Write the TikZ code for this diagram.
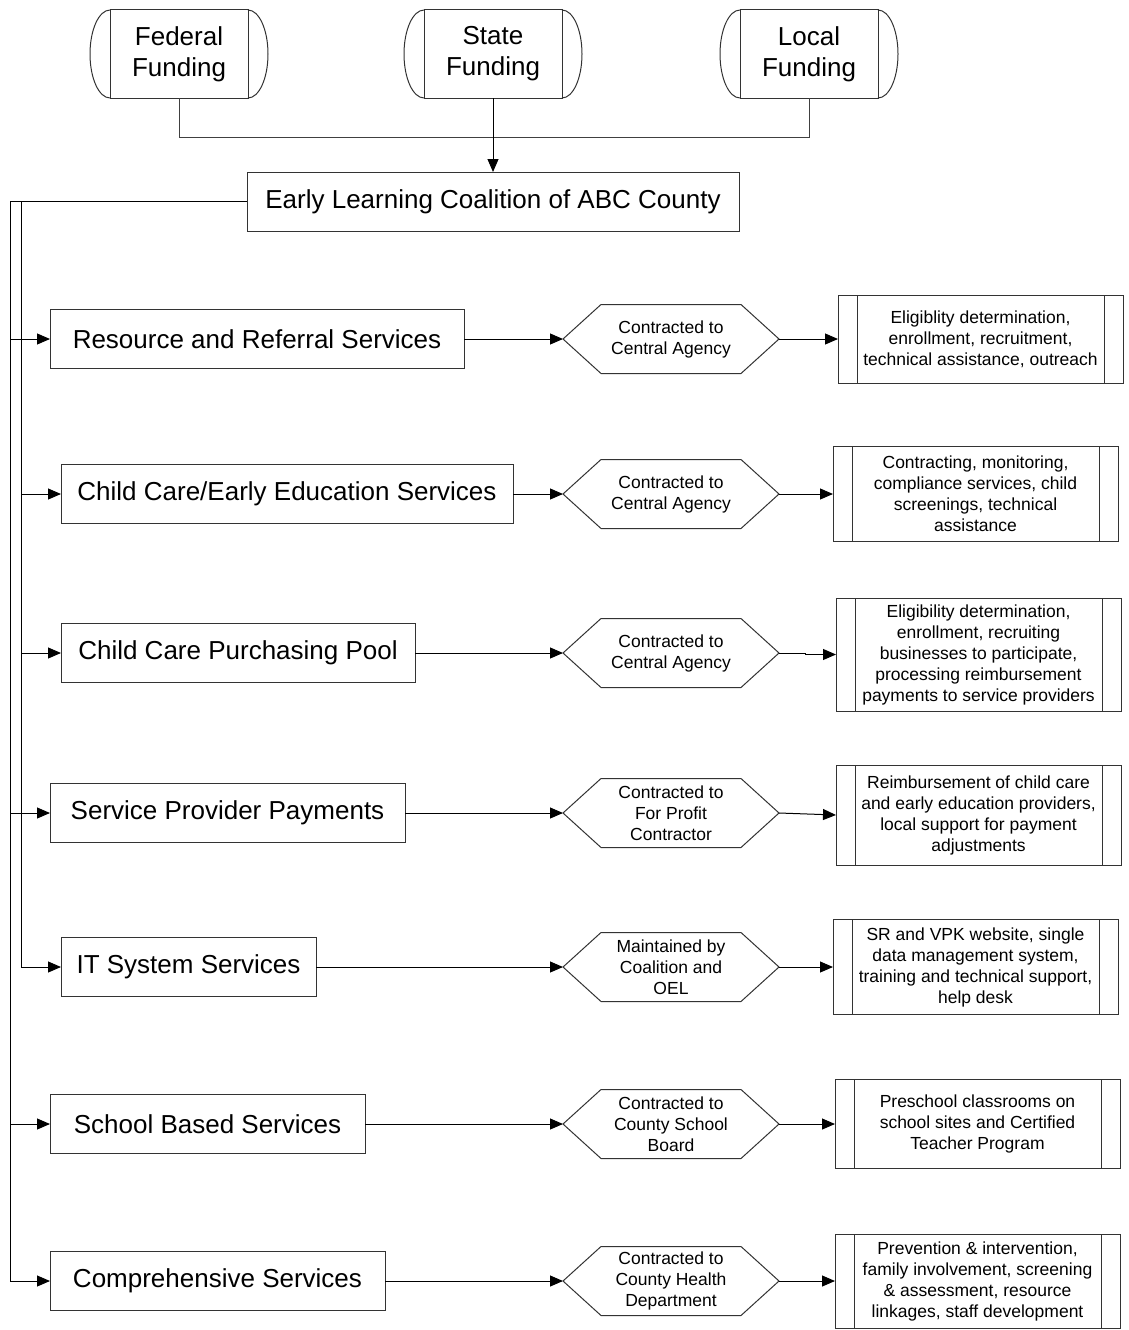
\documentclass[tikz,border=0pt]{standalone}
\usepackage{fontspec}
\setmainfont{Liberation Sans}
\usetikzlibrary{arrows.meta,calc}
\begin{document}
\begin{tikzpicture}[x=1pt,y=-1pt,
  bx/.style={draw=black!80,line width=1pt,rectangle,inner sep=0pt,outer sep=0pt,align=center,font=\fontsize{26}{31}\selectfont,minimum height=59pt},
  fund/.style={draw=black!80,line width=1pt,rectangle,inner sep=0pt,outer sep=0pt,align=center,font=\fontsize{26}{31}\selectfont,minimum width=138pt,minimum height=88pt},
  hexlbl/.style={rectangle,inner sep=0pt,outer sep=0pt,align=center,font=\fontsize{17.5}{21}\selectfont,minimum width=216pt,minimum height=69pt},
  dbox/.style={draw=black!80,line width=1pt,rectangle,inner sep=0pt,outer sep=0pt,align=center,font=\fontsize{17.5}{21}\selectfont,minimum width=285pt},
  outl/.style={draw=black!80,line width=1pt},
  conn/.style={draw=black!75,line width=1pt},
  arr/.style={draw=black,line width=1pt,-{Triangle[length=13pt,width=11pt]}}]
\useasboundingbox (0,0) rectangle (1128,1330);

% funding
\node[fund] (f1) at (179,54) {Federal\\Funding};
\node[fund] (f2) at (493,54) {State\\Funding};
\node[fund] (f3) at (809,54) {Local\\Funding};
\foreach \f in {f1,f2,f3}{
  \draw[outl] (\f.north west) arc[start angle=90,end angle=270,x radius=20pt,y radius=44pt];
  \draw[outl] (\f.north east) arc[start angle=90,end angle=-90,x radius=20pt,y radius=44pt];
}
\node[bx,minimum width=492pt] (elc) at (493,201.5) {Early Learning Coalition of ABC County};
\coordinate (join) at (493,137);
\draw[conn] (f1.south) -- (f1.south |- join) -- (f3.south |- join) -- (f3.south);
\draw[arr] (f2.south) -- (elc.north);

% service boxes
\node[bx,minimum width=414pt] (r1) at (257,339) {Resource and Referral Services};
\node[bx,minimum width=452pt] (r2) at (287,494) {Child Care/Early Education Services};
\node[bx,minimum width=354pt] (r3) at (238,653) {Child Care Purchasing Pool};
\node[bx,minimum width=355pt] (r4) at (227.5,813) {Service Provider Payments};
\node[bx,minimum width=255pt] (r5) at (188.5,967) {IT System Services};
\node[bx,minimum width=315pt] (r6) at (207.5,1124) {School Based Services};
\node[bx,minimum width=335pt] (r7) at (217.5,1281) {Comprehensive Services};

% hexagons
\node[hexlbl] (h1) at (671,339) {Contracted to\\Central Agency};
\node[hexlbl] (h2) at (671,494) {Contracted to\\Central Agency};
\node[hexlbl] (h3) at (671,653) {Contracted to\\Central Agency};
\node[hexlbl] (h4) at (671,813) {Contracted to\\For Profit\\Contractor};
\node[hexlbl] (h5) at (671,967) {Maintained by\\Coalition and\\OEL};
\node[hexlbl] (h6) at (671,1124) {Contracted to\\County School\\Board};
\node[hexlbl] (h7) at (671,1281) {Contracted to\\County Health\\Department};
\foreach \h in {h1,h2,h3,h4,h5,h6,h7}{
  \draw[outl] (\h.west) -- ([xshift=38pt]\h.north west) -- ([xshift=-38pt]\h.north east) -- (\h.east) -- ([xshift=-38pt]\h.south east) -- ([xshift=38pt]\h.south west) -- cycle;
}

% description boxes
\node[dbox,minimum height=88pt] (d1) at (980.5,339) {Eligiblity determination,\\enrollment, recruitment,\\technical assistance, outreach};
\node[dbox,minimum height=95pt] (d2) at (975.5,494) {Contracting, monitoring,\\compliance services, child\\screenings, technical\\assistance};
\node[dbox,minimum height=113pt] (d3) at (978.5,654.5) {Eligibility determination,\\enrollment, recruiting\\businesses to participate,\\processing reimbursement\\payments to service providers};
\node[dbox,minimum height=100pt] (d4) at (978.5,815) {Reimbursement of child care\\and early education providers,\\local support for payment\\adjustments};
\node[dbox,minimum height=95pt] (d5) at (975.5,967) {SR and VPK website, single\\data management system,\\training and technical support,\\help desk};
\node[dbox,minimum height=89pt] (d6) at (977.5,1124) {Preschool classrooms on\\school sites and Certified\\Teacher Program};
\node[dbox,minimum height=94pt] (d7) at (977.5,1281) {Prevention \& intervention,\\family involvement, screening\\\& assessment, resource\\linkages, staff development};
\foreach \d in {d1,d2,d3,d4,d5,d6,d7}{
  \draw[outl] ([xshift=19pt]\d.north west) -- ([xshift=19pt]\d.south west);
  \draw[outl] ([xshift=-19pt]\d.north east) -- ([xshift=-19pt]\d.south east);
}

% bus
\coordinate (busA) at (10,201.5);
\coordinate (busB) at (21,201.5);
\draw[arr] (elc.west) -- (busA) |- (r7.west);
\draw[arr] (busB) |- (r5.west);
\draw[arr] (r1.west -| busA) -- (r1.west);
\draw[arr] (r2.west -| busB) -- (r2.west);
\draw[arr] (r3.west -| busB) -- (r3.west);
\draw[arr] (r4.west -| busA) -- (r4.west);
\draw[arr] (r6.west -| busA) -- (r6.west);

% row connectors
\foreach \i in {1,...,7}{
  \draw[arr] (r\i.east) -- (h\i.west);
}
\draw[arr] (h1.east) -- (d1.west);
\draw[arr] (h2.east) -- (d2.west);
\draw[arr] (h3.east) -- ++(26,0) |- (d3.west);
\draw[arr] (h4.east) -- (d4.west);
\draw[arr] (h5.east) -- (d5.west);
\draw[arr] (h6.east) -- (d6.west);
\draw[arr] (h7.east) -- (d7.west);
\end{tikzpicture}
\end{document}
